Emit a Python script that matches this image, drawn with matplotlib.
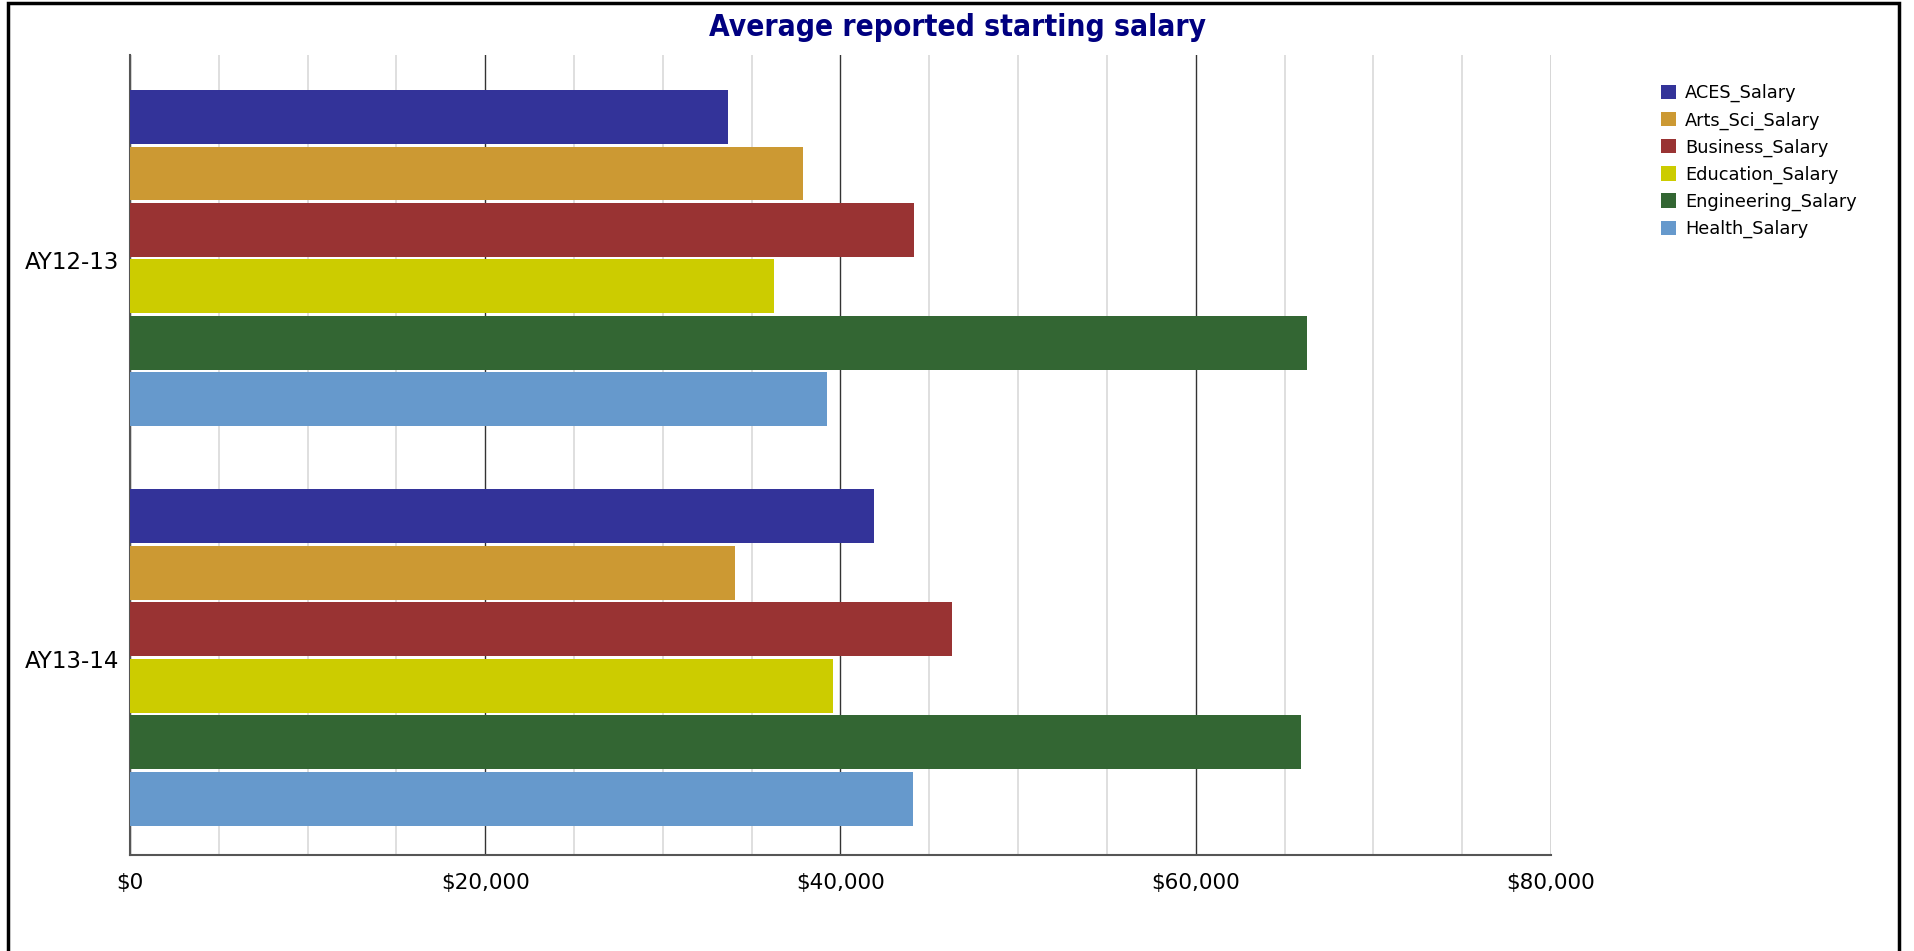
import numpy as np
import matplotlib
matplotlib.use("Agg")
import matplotlib.pyplot as plt
from matplotlib.ticker import FuncFormatter, MultipleLocator
from matplotlib.patches import Rectangle

# data
years = ["AY12-13", "AY13-14"]
series = ["ACES_Salary", "Arts_Sci_Salary", "Business_Salary",
          "Education_Salary", "Engineering_Salary", "Health_Salary"]
aces = [33650, 41870]
arts_sci = [37870, 34050]
business = [44120, 46260]
education = [36240, 39560]
engineering = [66240, 65900]
health = [39220, 44060]
colors = ["#333399", "#CC9933", "#993333", "#CCCC00", "#336633", "#6699CC"]

values = [aces, arts_sci, business, education, engineering, health]

plt.rcParams['font.family'] = ['DejaVu Sans']

fig = plt.figure(figsize=(19.15, 9.51), dpi=100)
ax = fig.add_axes([130 / 1915, 1 - 855 / 951, (1551 - 130) / 1915, (855 - 55) / 951])

y = np.arange(len(years))
step = 0.1415
h = 0.135
for i, (name, vals) in enumerate(zip(series, values)):
    ax.barh(y + (i - 2.5) * step - 0.005, vals, height=h, color=colors[i], label=name, zorder=3)

ax.set_xlim(0, 80000)
ax.set_ylim(1.49, -0.514)
ax.xaxis.set_major_locator(MultipleLocator(20000))
ax.xaxis.set_minor_locator(MultipleLocator(5000))
ax.xaxis.set_major_formatter(FuncFormatter(lambda v, p: "${:,.0f}".format(v)))
ax.grid(True, which="minor", axis="x", color="#d9d9d9", linewidth=1.2, zorder=0)
ax.grid(True, which="major", axis="x", color="#333333", linewidth=1.0, zorder=1)
ax.set_yticks(y)
ax.set_yticklabels(years)
ax.tick_params(axis="both", which="both", length=0)
ax.tick_params(axis="x", pad=13, labelsize=15.5)
ax.tick_params(axis="y", pad=8, labelsize=16.5)
for s in ["top", "right"]:
    ax.spines[s].set_visible(False)
for s in ["left", "bottom"]:
    ax.spines[s].set_color("#555555")
    ax.spines[s].set_linewidth(1.5)

fig.text(0.5, 1 - 28 / 951, "Average reported starting salary", ha="center", va="center",
         fontsize=21.4, fontweight="bold", fontstretch="condensed", color="#000080")

leg = fig.legend(loc="upper left", bbox_to_anchor=(1654 / 1915, 1 - 77 / 951),
                 frameon=False, fontsize=12.8, handlelength=0.85, handleheight=0.85,
                 handletextpad=0.5, labelspacing=0.5, borderaxespad=0)

fig.patches.append(Rectangle((8 / 1915, -0.05), (1899 - 8) / 1915, 1.05 - 3 / 951,
                             transform=fig.transFigure, fill=False,
                             edgecolor="black", linewidth=2.5))

fig.savefig("out.png", dpi=100)
